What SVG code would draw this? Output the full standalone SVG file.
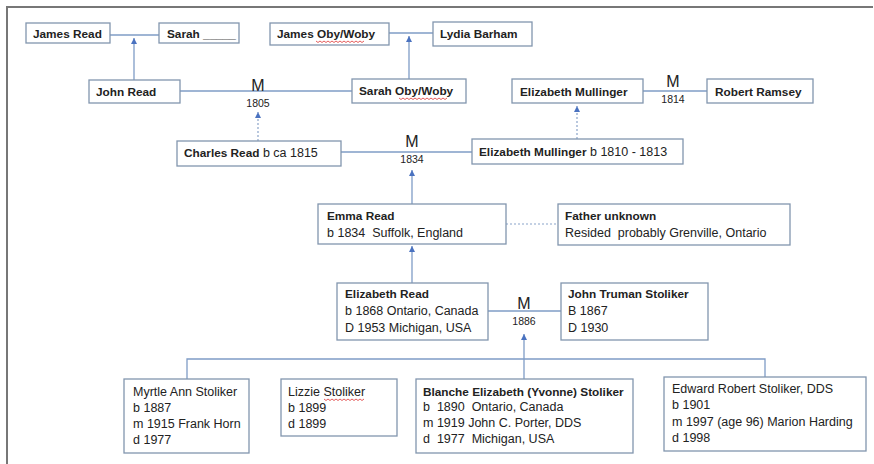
<svg xmlns="http://www.w3.org/2000/svg" width="874" height="464" viewBox="0 0 874 464">
<style>
.box{fill:#fff;stroke:#8296ae;stroke-width:1.3}
.ln{fill:none;stroke:#7f9cc6;stroke-width:1.3}
.dot{fill:none;stroke:#8aa3c9;stroke-width:1.2;stroke-dasharray:2 2}
text{font-family:"Liberation Sans",Arial,sans-serif;fill:#222}
.b{font-weight:bold;font-size:11.8px}
.r{font-size:12.5px}
.m{font-size:16px;text-anchor:middle}
.y{font-size:10.5px;text-anchor:middle}
.sq{fill:none;stroke:#d33;stroke-width:0.8}
</style>
<defs>
<marker id="ah" viewBox="0 0 10 10" refX="10" refY="5" markerWidth="6" markerHeight="6" orient="auto" markerUnits="userSpaceOnUse">
<path d="M0,0 L10,5 L0,10 z" fill="#4a72c0"/>
</marker>
</defs>
<rect width="874" height="464" fill="#fff"/>
<path d="M7,464 V7 H873" fill="none" stroke="#777" stroke-width="2"/>

<g id="connectors">
<path class="ln" d="M110,35 H159"/>
<path class="ln" d="M134,80 V38" marker-end="url(#ah)"/>
<path class="ln" d="M389,33 H433"/>
<path class="ln" d="M409,79 V36" marker-end="url(#ah)"/>
<path class="ln" d="M180,91 H352"/>
<path class="dot" d="M258,141 V112" marker-end="url(#ah)"/>
<path class="ln" d="M643,91 H707"/>
<path class="dot" d="M577,139 V106" marker-end="url(#ah)"/>
<path class="ln" d="M341,152 H472"/>
<path class="ln" d="M412,204 V170" marker-end="url(#ah)"/>
<path class="dot" d="M506,224 H558"/>
<path class="ln" d="M412,283 V246" marker-end="url(#ah)"/>
<path class="ln" d="M488,311 H561"/>
<path class="ln" d="M524,359 V334" marker-end="url(#ah)"/>
<path class="ln" d="M187,379 V359 H765 V377"/>
<path class="ln" d="M524,359 V379"/>
</g>

<g id="labels">
<text class="m" x="258" y="91">M</text><text class="y" x="258" y="107">1805</text>
<text class="m" x="673" y="87">M</text><text class="y" x="673" y="103">1814</text>
<text class="m" x="412" y="147">M</text><text class="y" x="412" y="163">1834</text>
<text class="m" x="524" y="309">M</text><text class="y" x="524" y="325">1886</text>
</g>

<g id="james-read"><rect class="box" x="26" y="23" width="84" height="20"/><text class="b" x="33" y="38">James Read</text></g>
<g id="sarah"><rect class="box" x="159" y="23" width="80" height="20"/><text class="b" x="167" y="38">Sarah _____</text></g>
<g id="john-read"><rect class="box" x="89" y="80" width="91" height="23"/><text class="b" x="96" y="96">John Read</text></g>
<g id="james-oby"><rect class="box" x="270" y="23" width="119" height="22"/><text class="b" x="277" y="38">James Oby/Woby</text>
<path class="sq" d="M316,41 l2,1.5 l2,-1.5 l2,1.5 l2,-1.5 l2,1.5 l2,-1.5 l2,1.5 l2,-1.5 l2,1.5 l2,-1.5 l2,1.5 l2,-1.5 l2,1.5 l2,-1.5 l2,1.5 l2,-1.5 l2,1.5 l2,-1.5 l2,1.5 l2,-1.5 l2,1.5 l2,-1.5 l2,1.5 l2,-1.5"/></g>
<g id="lydia-barham"><rect class="box" x="433" y="22" width="99" height="24"/><text class="b" x="440" y="38">Lydia Barham</text></g>
<g id="sarah-oby"><rect class="box" x="352" y="79" width="114" height="24"/><text class="b" x="359" y="95">Sarah Oby/Woby</text>
<path class="sq" d="M399,98 l2,1.5 l2,-1.5 l2,1.5 l2,-1.5 l2,1.5 l2,-1.5 l2,1.5 l2,-1.5 l2,1.5 l2,-1.5 l2,1.5 l2,-1.5 l2,1.5 l2,-1.5 l2,1.5 l2,-1.5 l2,1.5 l2,-1.5 l2,1.5 l2,-1.5 l2,1.5 l2,-1.5 l2,1.5 l2,-1.5"/></g>
<g id="elizabeth-mullinger-1"><rect class="box" x="512" y="79" width="131" height="24"/><text class="b" x="520" y="96">Elizabeth Mullinger</text></g>
<g id="robert-ramsey"><rect class="box" x="707" y="79" width="106" height="24"/><text class="b" x="715" y="96">Robert Ramsey</text></g>
<g id="charles-read"><rect class="box" x="177" y="141" width="164" height="25"/><text x="184" y="157"><tspan class="b">Charles Read</tspan><tspan class="r"> b ca 1815</tspan></text></g>
<g id="elizabeth-mullinger-2"><rect class="box" x="472" y="139" width="211" height="25"/><text x="479" y="156"><tspan class="b">Elizabeth Mullinger</tspan><tspan class="r"> b 1810 - 1813</tspan></text></g>
<g id="emma-read"><rect class="box" x="318" y="204" width="188" height="40"/><text class="b" x="327" y="220">Emma Read</text><text class="r" x="327" y="237" xml:space="preserve">b 1834  Suffolk, England</text></g>
<g id="father-unknown"><rect class="box" x="558" y="204" width="232" height="41"/><text class="b" x="565" y="220">Father unknown</text><text class="r" x="565" y="237" xml:space="preserve">Resided  probably Grenville, Ontario</text></g>
<g id="elizabeth-read"><rect class="box" x="337" y="283" width="151" height="57"/><text class="b" x="345" y="298">Elizabeth Read</text><text class="r" x="345" y="315">b 1868 Ontario, Canada</text><text class="r" x="345" y="332">D 1953 Michigan, USA</text></g>
<g id="john-truman-stoliker"><rect class="box" x="561" y="283" width="147" height="57"/><text class="b" x="568" y="298">John Truman Stoliker</text><text class="r" x="568" y="315">B 1867</text><text class="r" x="568" y="332">D 1930</text></g>
<g id="myrtle"><rect class="box" x="124" y="379" width="125" height="74"/><text class="r" x="133" y="396">Myrtle Ann Stoliker</text><text class="r" x="133" y="412">b 1887</text><text class="r" x="133" y="428">m 1915 Frank Horn</text><text class="r" x="133" y="444">d 1977</text></g>
<g id="lizzie"><rect class="box" x="281" y="379" width="116" height="57"/><text class="r" x="288" y="396">Lizzie Stoliker</text><text class="r" x="288" y="412">b 1899</text><text class="r" x="288" y="428">d 1899</text>
<path class="sq" d="M324,399 l2,1.5 l2,-1.5 l2,1.5 l2,-1.5 l2,1.5 l2,-1.5 l2,1.5 l2,-1.5 l2,1.5 l2,-1.5 l2,1.5 l2,-1.5 l2,1.5 l2,-1.5 l2,1.5 l2,-1.5 l2,1.5 l2,-1.5 l2,1.5 l2,-1.5"/></g>
<g id="blanche"><rect class="box" x="416" y="379" width="217" height="74"/><text class="b" x="423" y="396">Blanche Elizabeth (Yvonne) Stoliker</text><text class="r" x="423" y="411" xml:space="preserve">b  1890  Ontario, Canada</text><text class="r" x="423" y="427">m 1919 John C. Porter, DDS</text><text class="r" x="423" y="443" xml:space="preserve">d  1977  Michigan, USA</text></g>
<g id="edward"><rect class="box" x="664" y="377" width="202" height="74"/><text class="r" x="672" y="393">Edward Robert Stoliker, DDS</text><text class="r" x="672" y="409">b 1901</text><text class="r" x="672" y="426">m 1997 (age 96) Marion Harding</text><text class="r" x="672" y="442">d 1998</text></g>
</svg>
